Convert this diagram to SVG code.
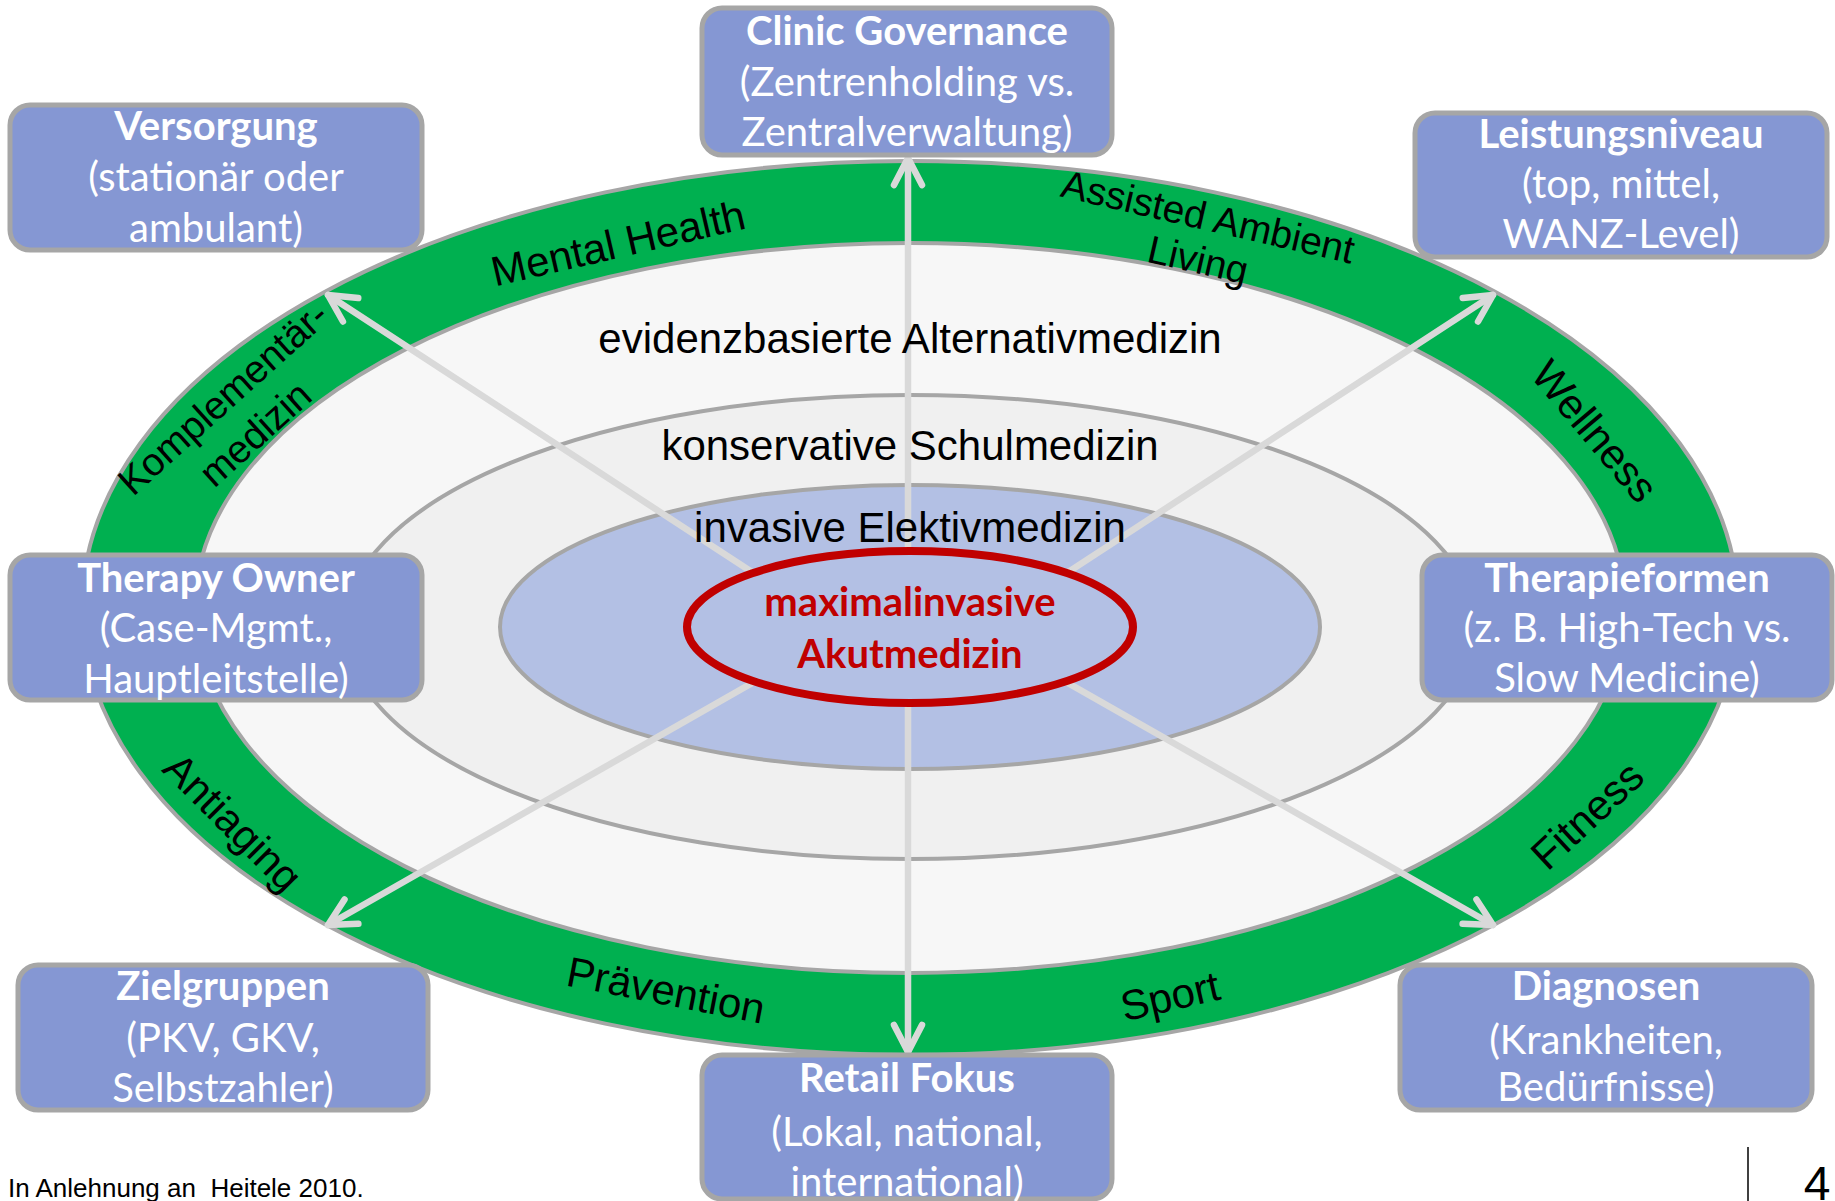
<svg xmlns="http://www.w3.org/2000/svg" width="1835" height="1201" viewBox="0 0 1835 1201">
  <style>
    .ring-band { fill:#00b050; stroke:#a6a6a6; stroke-width:4; }
    .zone { stroke:#a6a6a6; stroke-width:4; }
    .box { fill:#8597d3; stroke:#a6a6a6; stroke-width:5; }
    .bt { font-family:Lato, "Open Sans", sans-serif; font-size:40px; fill:#ffffff; text-anchor:middle; }
    .bt .h { font-weight:bold; }
    .lbl { font-family:"Liberation Sans", Arial, sans-serif; font-size:42px; fill:#000000; text-anchor:middle; }
    .lbl2 { font-family:"Liberation Sans", Arial, sans-serif; font-size:39px; fill:#000000; text-anchor:middle; }
    .zl { font-family:"Liberation Sans", Arial, sans-serif; font-size:42px; fill:#000000; text-anchor:middle; }
    .core { font-family:Lato, "Open Sans", sans-serif; font-size:40px; font-weight:bold; fill:#c00000; text-anchor:middle; }
    .arrow { stroke:#d9d9d9; stroke-width:6.5; stroke-linecap:round; fill:none; marker-end:url(#chev); }
  </style>
  <defs>
    <marker id="chev" markerUnits="userSpaceOnUse" markerWidth="80" markerHeight="80" viewBox="-40 -40 80 80" refX="0" refY="0" orient="auto" overflow="visible">
      <path d="M-27,-14 L0,0 L-27,14" fill="none" stroke="#d9d9d9" stroke-width="6.5" stroke-linecap="round" stroke-linejoin="round"/>
    </marker>
  </defs>

  <rect x="0" y="0" width="1835" height="1201" fill="#ffffff"/>

  <!-- concentric zones -->
  <g id="zones">
    <ellipse class="ring-band" cx="910" cy="608" rx="828" ry="447"/>
    <ellipse class="zone" cx="910" cy="608" rx="715" ry="365" fill="#f7f7f7"/>
    <ellipse class="zone" cx="910" cy="627" rx="565" ry="232" fill="#f0f0f0"/>
    <ellipse class="zone" cx="910" cy="627" rx="410" ry="142" fill="#b3c0e4"/>
  </g>

  <!-- spokes from the core out to the ring -->
  <g id="connectors">
    <line class="arrow" x1="908" y1="627" x2="908" y2="158"/>
    <line class="arrow" x1="908" y1="627" x2="908" y2="1052"/>
    <line class="arrow" x1="810" y1="610" x2="328" y2="295"/>
    <line class="arrow" x1="1010" y1="610" x2="1493" y2="295"/>
    <line class="arrow" x1="810" y1="650" x2="328" y2="925"/>
    <line class="arrow" x1="1010" y1="650" x2="1493" y2="925"/>
  </g>

  <!-- core -->
  <g id="core">
    <ellipse cx="910" cy="627" rx="223" ry="76" fill="#b3c0e4" stroke="#c00000" stroke-width="8"/>
    <text class="core"><tspan x="910" y="616">maximalinvasive</tspan><tspan x="910" y="668">Akutmedizin</tspan></text>
  </g>

  <!-- zone labels -->
  <g id="zone-labels">
    <text class="zl" x="910" y="353">evidenzbasierte Alternativmedizin</text>
    <text class="zl" x="910" y="460">konservative Schulmedizin</text>
    <text class="zl" x="910" y="542">invasive Elektivmedizin</text>
  </g>

  <!-- ring labels -->
  <g id="ring-labels">
    <text class="lbl" transform="translate(618,243) rotate(-13)" dy="0.35em">Mental Health</text>
    <text class="lbl2" transform="translate(1205,230) rotate(13)"><tspan x="0" y="0">Assisted Ambient</tspan><tspan x="0" y="44">Living</tspan></text>
    <text class="lbl2" transform="translate(232,408) rotate(-42)"><tspan x="0" y="0">Komplementär-</tspan><tspan x="0" y="48">medizin</tspan></text>
    <text class="lbl" transform="translate(1595,431) rotate(50)" dy="0.35em">Wellness</text>
    <text class="lbl" transform="translate(233,822) rotate(45)" dy="0.35em">Antiaging</text>
    <text class="lbl" transform="translate(666,990) rotate(11)" dy="0.35em">Prävention</text>
    <text class="lbl" transform="translate(1170,996) rotate(-13)" dy="0.35em">Sport</text>
    <text class="lbl" transform="translate(1587,815) rotate(-43)" dy="0.35em">Fitness</text>
  </g>

  <!-- dimension boxes -->
  <g id="box-versorgung">
    <rect class="box" x="10" y="105" width="412" height="145" rx="20"/>
    <text class="bt"><tspan class="h" x="216" y="140">Versorgung</tspan><tspan x="216" y="191">(stationär oder</tspan><tspan x="216" y="242">ambulant)</tspan></text>
  </g>
  <g id="box-governance">
    <rect class="box" x="702" y="8" width="410" height="147" rx="20"/>
    <text class="bt"><tspan class="h" x="907" y="45">Clinic Governance</tspan><tspan x="907" y="96">(Zentrenholding vs.</tspan><tspan x="907" y="146">Zentralverwaltung)</tspan></text>
  </g>
  <g id="box-leistungsniveau">
    <rect class="box" x="1415" y="113" width="412" height="144" rx="20"/>
    <text class="bt"><tspan class="h" x="1621" y="148">Leistungsniveau</tspan><tspan x="1621" y="198">(top, mittel,</tspan><tspan x="1621" y="248">WANZ-Level)</tspan></text>
  </g>
  <g id="box-therapy-owner">
    <rect class="box" x="10" y="555" width="412" height="145" rx="20"/>
    <text class="bt"><tspan class="h" x="216" y="592">Therapy Owner</tspan><tspan x="216" y="642">(Case-Mgmt.,</tspan><tspan x="216" y="693">Hauptleitstelle)</tspan></text>
  </g>
  <g id="box-therapieformen">
    <rect class="box" x="1422" y="555" width="410" height="145" rx="20"/>
    <text class="bt"><tspan class="h" x="1627" y="592">Therapieformen</tspan><tspan x="1627" y="642">(z. B. High-Tech vs.</tspan><tspan x="1627" y="692">Slow Medicine)</tspan></text>
  </g>
  <g id="box-zielgruppen">
    <rect class="box" x="18" y="965" width="410" height="145" rx="20"/>
    <text class="bt"><tspan class="h" x="223" y="1000">Zielgruppen</tspan><tspan x="223" y="1052">(PKV, GKV,</tspan><tspan x="223" y="1102">Selbstzahler)</tspan></text>
  </g>
  <g id="box-retail">
    <rect class="box" x="702" y="1055" width="410" height="144" rx="20"/>
    <text class="bt"><tspan class="h" x="907" y="1092">Retail Fokus</tspan><tspan x="907" y="1146">(Lokal, national,</tspan><tspan x="907" y="1196">international)</tspan></text>
  </g>
  <g id="box-diagnosen">
    <rect class="box" x="1400" y="965" width="412" height="145" rx="20"/>
    <text class="bt"><tspan class="h" x="1606" y="1000">Diagnosen</tspan><tspan x="1606" y="1054">(Krankheiten,</tspan><tspan x="1606" y="1101">Bedürfnisse)</tspan></text>
  </g>

  <!-- footer -->
  <g id="footer">
    <text x="8" y="1197" font-family="'Liberation Sans', Arial, sans-serif" font-size="26" fill="#000000" style="white-space:pre">In Anlehnung an  Heitele 2010.</text>
    <line x1="1748" y1="1147" x2="1748" y2="1201" stroke="#000000" stroke-width="1.5"/>
    <text x="1817" y="1200" font-family="'Liberation Sans', Arial, sans-serif" font-size="48" fill="#000000" text-anchor="middle">4</text>
  </g>
</svg>
